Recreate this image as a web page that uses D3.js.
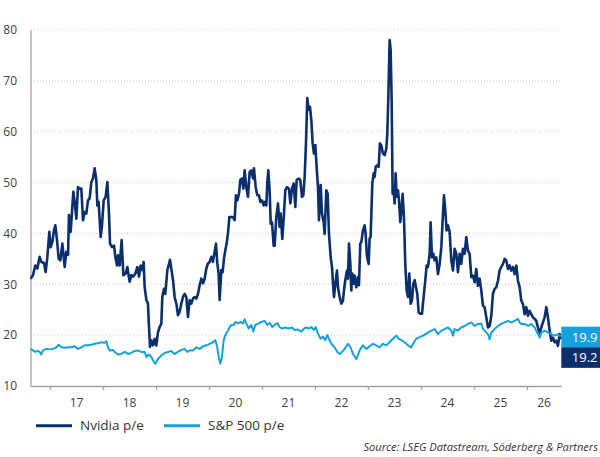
<!DOCTYPE html>
<html><head><meta charset="utf-8">
<script src="https://cdn.jsdelivr.net/npm/d3@7"></script>
<style>body{margin:0;background:#fff} svg{display:block}</style>
</head><body><svg id="chart" width="600" height="457"></svg>
<script>
// ---- DATA ----
const nvidiaYears = [
2016.635,2016.679,2016.723,2016.761,2016.805,2016.836,2016.887,2016.918,2016.950,2016.987,
2017.013,2017.044,2017.075,2017.101,2017.132,2017.164,2017.195,2017.233,2017.277,2017.308,
2017.340,2017.358,2017.390,2017.421,2017.440,2017.465,2017.497,2017.528,2017.560,2017.591,
2017.623,2017.654,2017.685,2017.717,2017.748,2017.780,2017.811,2017.843,2017.874,2017.893,
2017.918,2017.956,2017.981,2018.013,2018.050,2018.082,2018.113,2018.132,2018.170,2018.208,
2018.233,2018.264,2018.283,2018.315,2018.352,2018.384,2018.428,2018.459,
2018.503,2018.535,2018.566,2018.610,2018.648,2018.679,2018.711,2018.742,2018.767,2018.786,
2018.818,2018.849,2018.868,2018.887,2018.912,2018.943,2018.975,2019.006,2019.038,2019.069,
2019.101,2019.119,2019.151,2019.176,2019.214,2019.239,2019.264,2019.289,2019.321,2019.352,
2019.384,2019.415,2019.447,2019.478,2019.509,2019.541,2019.572,2019.604,2019.635,2019.667,
2019.698,2019.730,2019.761,2019.792,2019.824,2019.855,2019.887,2019.918,2019.950,2019.981,
2020.013,2020.044,2020.075,2020.107,2020.132,2020.157,2020.182,2020.201,2020.233,2020.258,
2020.283,2020.308,2020.333,2020.358,2020.384,2020.421,
2020.453,2020.484,2020.509,2020.535,2020.566,2020.591,2020.623,2020.648,2020.673,2020.704,
2020.736,2020.767,2020.799,2020.830,2020.849,2020.881,2020.912,2020.943,2020.968,2021.000,
2021.031,2021.050,2021.082,2021.101,2021.119,2021.145,2021.164,2021.189,2021.220,2021.239,
2021.270,2021.302,2021.333,2021.352,2021.384,2021.415,2021.440,2021.472,2021.509,2021.535,
2021.566,2021.598,2021.629,2021.654,2021.692,2021.723,2021.755,2021.780,2021.805,2021.830,
2021.855,2021.881,2021.906,2021.931,2021.956,2021.981,2022.006,2022.031,2022.057,2022.075,
2022.107,2022.132,2022.164,2022.182,2022.214,2022.239,2022.264,
2022.296,2022.321,2022.340,2022.358,2022.384,2022.415,2022.434,2022.465,2022.497,2022.528,
2022.547,2022.572,2022.604,2022.623,2022.642,2022.667,2022.686,2022.704,2022.730,2022.748,
2022.780,2022.811,2022.830,2022.855,2022.874,2022.906,2022.937,2022.956,2022.981,2023.013,
2023.031,2023.050,2023.082,2023.107,2023.126,2023.145,2023.176,2023.201,2023.226,2023.252,
2023.283,2023.315,2023.346,2023.365,2023.384,2023.409,2023.428,2023.447,2023.465,2023.484,
2023.503,2023.522,2023.541,2023.566,2023.585,2023.610,2023.629,2023.654,2023.679,2023.704,
2023.730,2023.755,2023.780,2023.805,2023.830,2023.855,2023.881,2023.906,2023.931,2023.956,
2023.987,2024.019,2024.050,2024.082,2024.107,2024.132,
2024.164,2024.182,2024.208,2024.233,2024.258,2024.289,2024.321,2024.352,2024.384,2024.409,
2024.434,2024.459,2024.484,2024.509,2024.541,2024.572,2024.604,2024.635,2024.667,2024.698,
2024.730,2024.761,2024.792,2024.824,2024.855,2024.887,2024.918,2024.950,2024.981,2025.013,
2025.044,2025.075,2025.107,2025.138,2025.170,2025.201,2025.233,2025.264,2025.296,2025.327,
2025.358,2025.390,2025.421,2025.453,2025.484,2025.516,2025.547,2025.579,2025.610,2025.642,
2025.673,2025.704,2025.736,2025.767,2025.799,2025.830,2025.862,2025.893,2025.925,2025.956,
2025.987,2026.019,2026.050,2026.082,2026.113,2026.145,2026.176,2026.208,2026.239,2026.270,
2026.302,2026.333,2026.365,2026.396,2026.428,2026.459,2026.491,2026.522,2026.553,2026.585,
2026.616,2026.648
];
const nvidiaPE = [
31.1,31.8,33.7,33.1,35.4,34.4,34.2,32.4,35.4,40.3,
37.3,38.3,40.6,41.6,38.7,35.0,34.7,38.0,33.4,36.4,
35.8,43.6,40.3,45.2,48.2,46.2,42.9,49.1,48.8,48.8,
42.6,44.2,43.9,46.5,46.9,50.1,50.8,52.8,50.5,45.5,
46.2,39.3,41.6,46.5,47.2,50.1,43.9,38.0,37.3,37.6,
35.4,33.7,35.7,33.7,38.7,31.8,32.1,33.4,
30.5,31.8,31.5,32.1,33.4,31.5,33.7,32.8,34.4,29.5,
26.9,26.2,21.6,17.7,19.0,18.0,19.3,18.0,20.6,21.6,
22.2,27.5,29.1,28.1,32.8,33.7,34.8,33.1,30.8,27.5,
26.2,23.9,24.6,26.2,27.5,28.1,27.5,23.6,26.9,26.2,
27.2,27.5,27.2,28.1,29.8,31.1,30.2,31.1,33.1,34.1,
34.4,35.4,34.4,36.4,38.0,34.1,32.1,26.9,32.8,32.4,
35.1,36.7,38.0,40.0,43.2,43.2,
43.2,42.6,47.5,46.5,47.8,50.5,50.8,48.8,52.4,49.1,
47.2,52.1,52.4,50.8,52.8,49.1,47.5,47.5,46.2,46.5,
45.5,46.2,45.5,50.1,52.4,48.5,41.9,42.2,37.6,37.6,
43.2,45.9,41.3,43.9,38.9,43.9,48.5,49.1,48.8,45.9,
48.8,49.8,45.2,50.5,50.8,50.5,47.2,47.5,51.1,57.7,
66.6,64.3,64.9,62.3,57.7,55.7,57.4,53.1,49.1,42.6,
49.5,43.9,42.2,39.9,48.5,47.8,39.9,
35.4,33.4,30.1,27.5,30.1,32.7,29.4,27.5,26.2,26.8,
28.8,30.8,32.7,31.1,38.0,34.0,28.8,32.1,30.1,31.7,
29.4,31.4,29.8,38.0,38.3,40.6,41.6,39.9,35.4,34.0,
39.0,39.3,49.8,51.8,51.1,53.1,53.4,53.1,57.7,57.3,
55.7,55.4,56.7,59.6,66.9,78.0,76.0,66.2,47.8,48.5,
45.9,51.8,47.2,48.5,46.5,42.2,44.2,47.8,43.2,34.0,
28.8,27.5,32.1,26.2,26.8,30.1,30.8,29.4,28.1,24.5,
24.2,24.2,27.5,30.8,33.7,33.4,
36.0,42.2,35.3,36.0,34.7,35.3,32.0,34.0,37.3,42.6,
47.5,44.5,40.6,41.6,40.3,34.7,32.7,37.0,36.0,32.4,
36.0,34.0,37.0,36.0,39.3,36.6,36.0,31.4,31.7,30.4,
33.0,29.7,31.1,28.8,25.8,25.5,23.5,21.5,21.8,23.8,
28.1,29.1,29.4,30.7,32.7,33.4,34.0,35.0,34.7,33.0,
33.7,32.7,33.4,32.0,33.7,30.7,29.4,26.8,26.1,24.1,
25.5,23.8,24.8,24.1,23.5,23.2,22.8,21.5,20.2,21.5,
22.5,23.5,25.5,23.5,20.9,18.9,19.5,18.6,18.9,17.9,
20.2,19.2
];
const spxYears = [
2016.635,2016.679,2016.723,2016.761,2016.805,2016.836,2016.868,2016.931,2016.994,2017.057,
2017.119,2017.164,2017.214,2017.277,2017.340,2017.402,2017.465,2017.528,2017.591,2017.654,
2017.717,2017.780,2017.843,2017.906,2017.968,2018.031,2018.063,2018.094,2018.126,2018.189,
2018.220,2018.283,2018.346,2018.409,2018.472,2018.535,2018.598,2018.660,2018.723,2018.786,
2018.818,2018.862,2018.912,2018.962,2018.987,2019.038,2019.101,2019.164,2019.226,2019.289,
2019.352,2019.415,2019.478,2019.541,2019.591,2019.635,2019.698,2019.761,2019.824,2019.887,
2019.950,2020.013,2020.075,2020.119,2020.157,2020.182,2020.214,2020.245,2020.277,2020.308,
2020.358,2020.409,2020.434,2020.472,2020.497,2020.547,2020.597,2020.642,2020.673,2020.704,
2020.748,2020.799,2020.836,2020.874,2020.937,2020.987,2021.050,2021.101,2021.145,2021.195,
2021.239,2021.289,2021.333,2021.377,2021.440,2021.503,2021.566,2021.616,2021.679,2021.742,
2021.792,2021.836,2021.881,2021.931,2021.981,2022.013,2022.057,2022.107,2022.151,2022.195,
2022.232,2022.277,2022.308,2022.371,2022.421,2022.465,2022.509,2022.560,2022.623,2022.673,
2022.717,2022.780,2022.843,2022.906,2022.968,2023.031,2023.094,2023.157,2023.220,2023.283,
2023.346,2023.409,2023.472,2023.535,2023.579,2023.629,2023.692,2023.755,2023.817,2023.868,
2023.912,2023.975,2024.038,2024.101,2024.195,2024.258,2024.321,2024.384,2024.447,2024.509,
2024.572,2024.604,2024.635,2024.698,2024.761,2024.824,2024.887,2024.950,2025.013,2025.075,
2025.138,2025.170,2025.201,2025.264,2025.296,2025.327,2025.390,2025.453,2025.516,2025.579,
2025.642,2025.704,2025.767,2025.830,2025.862,2025.893,2025.956,2026.019,2026.082,2026.145,
2026.208,2026.239,2026.270,2026.333,2026.396,2026.459,2026.522,2026.585,2026.616,2026.648
];
const spxPE = [
17.3,17.0,16.7,16.9,16.7,16.2,17.0,17.3,17.2,17.3,
17.6,18.1,17.6,17.5,17.6,17.6,17.8,17.3,17.6,18.0,
18.0,18.1,18.3,18.4,18.6,18.5,18.8,17.6,17.0,17.1,
16.7,16.2,16.3,16.7,16.3,16.5,16.9,17.0,16.7,16.7,
15.7,16.2,15.7,14.7,14.4,15.3,16.0,16.5,16.7,16.9,
16.3,16.7,17.1,17.3,16.7,17.0,17.0,17.6,17.3,17.8,
18.0,18.3,18.6,19.0,17.6,15.7,14.4,15.7,19.0,20.0,
20.9,21.9,22.0,22.0,22.6,22.3,22.6,22.3,23.1,22.3,
21.3,22.0,20.7,22.0,22.3,22.6,22.8,22.0,22.4,21.6,
22.0,22.4,21.6,21.3,21.5,21.3,21.5,21.0,21.1,20.7,
21.3,21.5,21.3,21.6,21.0,21.6,20.3,19.3,19.7,19.0,
20.0,19.0,18.3,17.6,16.7,16.3,16.7,17.3,18.3,17.6,
16.3,15.3,17.0,18.0,17.3,17.8,18.3,18.0,17.6,18.3,
18.0,18.6,19.3,19.9,19.3,19.0,18.6,18.0,17.6,18.6,
19.3,19.6,19.9,20.3,20.9,21.2,20.2,20.9,21.2,21.5,
20.9,19.9,21.2,20.9,21.5,21.8,22.2,22.5,21.8,22.2,
22.3,21.2,20.9,20.2,19.2,20.5,21.2,21.8,22.2,22.5,
22.8,22.5,22.8,23.2,22.5,22.2,22.2,21.8,22.2,21.5,
20.2,19.5,20.5,20.9,20.5,20.2,19.9,20.2,19.9,19.9
];
const yearTicks  = [2017,2018,2019,2020,2021,2022,2023,2024,2025,2026];
const yearLabels = ["17","18","19","20","21","22","23","24","25","26"];
const yTicks     = [10,20,30,40,50,60,70,80];
const seriesNames = ["Nvidia p/e","S&P 500 p/e"];
const lastValues  = [19.9, 19.2];          // S&P 500, Nvidia (end labels)
const sourceText  = "Source: LSEG Datastream, Söderberg & Partners";

// ---- CHART ----
const NAVY = "#0b2e6d", CYAN = "#16a1dd", TXT = "#404040", FONT = "'Open Sans', sans-serif";
const svg = d3.select("#chart");
const x = d3.scaleLinear().domain([2016.632, 2026.648]).range([30.5, 561.3]);
const y = d3.scaleLinear().domain([10, 80]).range([386, 30]);

// grid
svg.append("g").selectAll("line").data(yTicks.filter(v => v > 10)).join("line")
  .attr("x1", 31).attr("x2", 560)
  .attr("y1", d => y(d)).attr("y2", d => y(d))
  .attr("stroke", "#c9c9c9").attr("stroke-width", 1).attr("stroke-dasharray", "1,2");

// y axis
const ya = svg.append("g").attr("transform", "translate(30.5,0)")
  .call(d3.axisLeft(y).tickValues(yTicks).tickSize(0).tickSizeOuter(0).tickPadding(13.5));
ya.select(".domain").attr("stroke", "#a3a3a3").attr("stroke-width", 1.3);
ya.selectAll("text").attr("font-family", FONT).attr("font-size", 12).attr("fill", TXT);

// x axis
const xa = svg.append("g").attr("transform", "translate(0,386)")
  .call(d3.axisBottom(x).tickValues(yearTicks).tickSize(4).tickSizeOuter(0).tickFormat(""));
xa.select(".domain").attr("stroke", "#a3a3a3").attr("stroke-width", 1.3);
xa.selectAll(".tick line").attr("stroke", "#a3a3a3").attr("stroke-width", 1.3);
svg.append("g").selectAll("text").data(yearTicks).join("text")
  .attr("x", (d, i) => i < yearTicks.length - 1 ? x(d + 0.5) : (x(d) + x.range()[1]) / 2)
  .attr("y", 403).attr("dy", "0.35em").attr("text-anchor", "middle")
  .attr("font-family", FONT).attr("font-size", 12).attr("fill", TXT)
  .text((d, i) => yearLabels[i]);

// lines
const line = d3.line().x(d => x(d[0])).y(d => y(d[1]));
const nv = d3.range(Math.min(nvidiaYears.length, nvidiaPE.length)).map(i => [nvidiaYears[i], nvidiaPE[i]]);
const sp = d3.range(Math.min(spxYears.length, spxPE.length)).map(i => [spxYears[i], spxPE[i]]);
svg.append("path").datum(nv).attr("d", line).attr("fill", "none")
  .attr("stroke", NAVY).attr("stroke-width", 2.6).attr("stroke-linejoin", "round");
svg.append("path").datum(sp).attr("d", line).attr("fill", "none")
  .attr("stroke", CYAN).attr("stroke-width", 2).attr("stroke-linejoin", "round");

// end labels
const bx = x.range()[1], bh = 20.6;
const top1 = y(lastValues[0]) - 9;
[[lastValues[0], CYAN, top1], [lastValues[1], NAVY, top1 + bh]].forEach(([v, c, t]) => {
  svg.append("rect").attr("x", bx).attr("y", t).attr("width", 600 - bx).attr("height", bh).attr("fill", c);
  svg.append("text").attr("x", bx + 10.5).attr("y", t + bh / 2).attr("dy", "0.35em")
    .attr("font-family", FONT).attr("font-size", 13).attr("fill", "#fff").text(v.toFixed(1));
});

// legend
const leg = [{n: seriesNames[0], c: NAVY, x: 36}, {n: seriesNames[1], c: CYAN, x: 164}];
leg.forEach(l => {
  svg.append("line").attr("x1", l.x).attr("x2", l.x + 36).attr("y1", 425.7).attr("y2", 425.7)
    .attr("stroke", l.c).attr("stroke-width", 3);
  svg.append("text").attr("x", l.x + 44).attr("y", 425.7).attr("dy", "0.35em")
    .attr("font-family", FONT).attr("font-size", 13.5).attr("fill", "#333").text(l.n);
});

// source
svg.append("text").attr("x", 598).attr("y", 451).attr("text-anchor", "end")
  .attr("font-family", FONT).attr("font-style", "italic").attr("font-size", 11.1)
  .attr("fill", "#333").text(sourceText);
</script></body></html>
